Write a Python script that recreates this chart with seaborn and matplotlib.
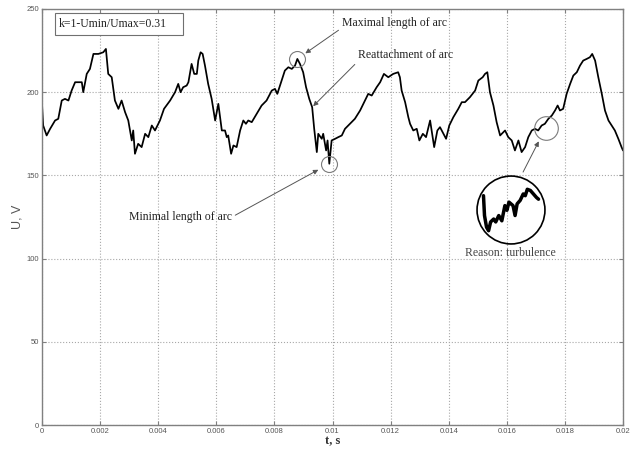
import numpy as np
import pandas as pd
import matplotlib
matplotlib.use("Agg")
import matplotlib.pyplot as plt
import seaborn as sns
from matplotlib.patches import Circle, Rectangle

# Arc voltage record, U (V) versus time t (s)
t_s = [
    0.00000, 0.00004, 0.00016, 0.00028, 0.00045, 0.00056, 0.00068, 0.00079, 0.00091, 0.00102,
    0.00114, 0.00125, 0.00137, 0.00142, 0.00154, 0.00165, 0.00177, 0.00194, 0.00211, 0.00220,
    0.00228, 0.00240, 0.00251, 0.00263, 0.00274, 0.00286, 0.00297, 0.00309, 0.00314, 0.00320,
    0.00331, 0.00343, 0.00355, 0.00366, 0.00378, 0.00389, 0.00406, 0.00420,
    0.00441, 0.00458, 0.00469, 0.00477, 0.00486, 0.00498, 0.00504, 0.00515, 0.00524, 0.00533,
    0.00538, 0.00546, 0.00553, 0.00561, 0.00572, 0.00584, 0.00596, 0.00607, 0.00619, 0.00630,
    0.00636, 0.00641, 0.00651, 0.00659, 0.00670, 0.00682, 0.00693, 0.00702, 0.00710, 0.00722,
    0.00739, 0.00756, 0.00773, 0.00791, 0.00802, 0.00810, 0.00825, 0.00836,
    0.00848, 0.00860, 0.00871, 0.00879, 0.00888, 0.00899, 0.00909, 0.00920, 0.00930, 0.00937,
    0.00946, 0.00951, 0.00963, 0.00968, 0.00978, 0.00983, 0.00989, 0.00997, 0.01009, 0.01020,
    0.01032, 0.01043, 0.01060, 0.01077, 0.01095, 0.01112, 0.01123, 0.01135, 0.01152, 0.01164,
    0.01177, 0.01192, 0.01209, 0.01226, 0.01232,
    0.01238, 0.01250, 0.01261, 0.01267, 0.01278, 0.01290, 0.01299, 0.01311, 0.01322, 0.01336,
    0.01344, 0.01350, 0.01361, 0.01370, 0.01379, 0.01391, 0.01402, 0.01416, 0.01433, 0.01445,
    0.01456, 0.01473, 0.01491, 0.01502, 0.01517, 0.01525, 0.01533, 0.01542, 0.01554, 0.01565,
    0.01577, 0.01594, 0.01605, 0.01617, 0.01628, 0.01640, 0.01651, 0.01663,
    0.01674, 0.01686, 0.01697, 0.01708, 0.01720, 0.01731, 0.01743, 0.01755, 0.01766, 0.01775,
    0.01783, 0.01794, 0.01806, 0.01818, 0.01829, 0.01841, 0.01852, 0.01863, 0.01875, 0.01886,
    0.01894, 0.01904, 0.01915, 0.01927, 0.01938, 0.01950, 0.01961, 0.01972, 0.01984, 0.01995,
    0.02000,
]
u_v = [
    193, 180, 174, 178, 183, 184, 195, 196, 195, 201,
    206, 206, 206, 200, 211, 214, 223, 223, 224, 226,
    211, 209, 195, 190, 195, 188, 183, 171, 177, 163,
    169, 167, 175, 173, 180, 177, 183, 190,
    195, 200, 205, 200, 203, 204, 206, 217, 211, 211,
    219, 224, 223, 216, 205, 196, 183, 193, 177, 177,
    173, 174, 163, 168, 167, 177, 183, 181, 183, 182,
    187, 192, 195, 201, 202, 199, 207, 213,
    215, 214, 216, 220, 217, 212, 203, 196, 191, 178,
    164, 175, 172, 175, 165, 171, 157, 171, 172, 173,
    174, 178, 181, 184, 189, 195, 199, 198, 203, 206,
    211, 209, 211, 212, 209,
    201, 194, 185, 181, 177, 178, 171, 175, 173, 183,
    174, 167, 177, 179, 176, 172, 180, 185, 190, 194,
    194, 197, 201, 207, 209, 211, 212, 200, 192, 182,
    174, 177, 173, 171, 165, 171, 164, 167,
    173, 177, 178, 177, 180, 181, 184, 186, 189, 192,
    189, 190, 199, 205, 210, 212, 216, 219, 220, 221,
    223, 219, 209, 199, 189, 183, 180, 177, 172, 167,
    165,
]

# Fine-scale detail of the turbulent stretch shown in the magnifier
detail_t = [
    0.01707, 0.01708, 0.01710, 0.01712, 0.01714, 0.01717, 0.01719, 0.01722, 0.01725, 0.01728,
    0.01730, 0.01732, 0.01736, 0.01738, 0.01740, 0.01743, 0.01746, 0.01748, 0.01750, 0.01753,
    0.01756, 0.01759, 0.01761,
]
detail_u = [
    181.1, 177.7, 175.7, 175.1, 176.6, 177.1, 176.6, 177.7, 176.8, 179.4,
    178.6, 180.0, 179.4, 177.7, 179.7, 180.3, 181.4, 181.1, 182.2, 182.0,
    181.4, 180.8, 180.5,
]

x_ticks = [0, 0.002, 0.004, 0.006, 0.008, 0.01, 0.012, 0.014, 0.016, 0.018, 0.02]
x_tick_labels = ["0", "0.002", "0.004", "0.006", "0.008", "0.01",
                 "0.012", "0.014", "0.016", "0.018", "0.02"]
y_ticks = [0, 50, 100, 150, 200, 250]
k_text = "k=1-Umin/Umax=0.31"
reattach_t = 0.0093

sns.set_style("white")
plt.rcParams["font.family"] = ["Liberation Sans", "DejaVu Sans"]
SERIF = ["Liberation Serif", "DejaVu Serif"]

W, H = 633, 451
fig = plt.figure(figsize=(W / 100, H / 100), dpi=100)
fig.patch.set_facecolor("white")
ax = fig.add_axes([42 / W, 1 - 425 / H, 581 / W, 416 / H])

df = pd.DataFrame({"t": t_s, "U": u_v})
sns.lineplot(data=df, x="t", y="U", ax=ax, color="black", lw=1.25,
             estimator=None, sort=False)

ax.set_xlim(0, 0.02)
ax.set_ylim(0, 250)
ax.set_xticks(x_ticks)
ax.set_xticklabels(x_tick_labels)
ax.set_yticks(y_ticks)
ax.grid(True, ls=":", color="#a8a8a8", lw=0.8)
ax.tick_params(direction="in", length=3, width=0.8, color="#808080",
               labelsize=5.5, labelcolor="#555555", pad=2,
               top=True, right=True, bottom=True, left=True)
for sp in ax.spines.values():
    sp.set_visible(True)
    sp.set_color("#808080")
    sp.set_linewidth(1.0)

ax.set_xlabel("t, s", family=SERIF, fontsize=9, fontweight="bold",
              color="#333333", labelpad=0.5)
ax.set_ylabel("U, V", fontsize=9, color="#555555", labelpad=2)

# Parameter box in the upper-left corner
ax.add_patch(Rectangle((0.0224, 0.9375), 0.2203, 0.0529, transform=ax.transAxes,
                       facecolor="white", edgecolor="#707070", lw=0.8, zorder=4))
ax.text(0.0293, 0.964, k_text, transform=ax.transAxes, ha="left", va="center",
        family=SERIF, fontsize=8.5, color="#222222", zorder=5)

t_arr = np.asarray(t_s)
u_arr = np.asarray(u_v)

# Highest point of the third period and lowest point right after it
win_max = (t_arr > 0.008) & (t_arr < 0.0095)
i_max = np.flatnonzero(win_max)[np.argmax(u_arr[win_max])]
win_min = (t_arr > 0.0095) & (t_arr < 0.0105)
i_min = np.flatnonzero(win_min)[np.argmin(u_arr[win_min])]
t_max, u_max = t_arr[i_max], u_arr[i_max]
t_min, u_min = t_arr[i_min], u_arr[i_min]
u_reattach = np.interp(reattach_t, t_arr, u_arr)
t_turb = (min(detail_t) + max(detail_t)) / 2
u_turb = (min(detail_u) + max(detail_u)) / 2

ring = dict(ls="none", marker="o", mfc="none", mec="#7a7a7a", mew=0.8, zorder=3)
ax.plot([t_max], [u_max], ms=11.5, **ring)
ax.plot([t_min], [u_min], ms=11.5, **ring)
ax.plot([t_turb], [u_turb], ms=17, **ring)

arrow = dict(arrowstyle="-|>", color="#555555", lw=0.7, mutation_scale=7, shrinkA=0)
note = dict(textcoords="axes fraction", family=SERIF, fontsize=8.5, color="#222222")

ax.annotate("Maximal length of arc", xy=(t_max, u_max), xytext=(0.516, 0.966),
            ha="left", va="center",
            arrowprops=dict(arrow, shrinkB=7, relpos=(0.0, 0.1)), **note)
ax.annotate("Reattachment of arc", xy=(reattach_t, u_reattach), xytext=(0.544, 0.889),
            ha="left", va="center",
            arrowprops=dict(arrow, shrinkB=1, relpos=(0.0, 0.0)), **note)
ax.annotate("Minimal length of arc", xy=(t_min, u_min), xytext=(0.327, 0.50),
            ha="right", va="center",
            arrowprops=dict(arrow, shrinkB=9, relpos=(1.0, 0.5)), **note)
ax.annotate("", xy=(t_turb, u_turb), xytext=(0.828, 0.608),
            textcoords="axes fraction",
            arrowprops=dict(arrow, shrinkB=11))
ax.text(0.8055, 0.414, "Reason: turbulence", transform=ax.transAxes,
        ha="center", va="center", family=SERIF, fontsize=8.5, color="#444444")

# Circular magnifier showing the turbulent stretch
cx, cy, r = 511, 210, 35
ax_in = fig.add_axes([(cx - r) / W, 1 - (cy + r) / H, 2 * r / W, 2 * r / H])
sns.lineplot(x=detail_t, y=detail_u, ax=ax_in, color="black", lw=2.5,
             estimator=None, sort=False)
span_t = max(detail_t) - min(detail_t)
ax_in.set_xlim(t_turb - 0.636 * span_t, t_turb + 0.636 * span_t)
ax_in.set_ylim(u_turb - 6.0, u_turb + 6.0)
ax_in.set_axis_off()
lens = Circle((0.5, 0.5), 0.485, transform=ax_in.transAxes,
              facecolor="none", edgecolor="black", lw=1.2)
ax_in.add_patch(lens)
ax_in.lines[-1].set_clip_path(lens)

fig.savefig("out.png", dpi=100, facecolor="white")
